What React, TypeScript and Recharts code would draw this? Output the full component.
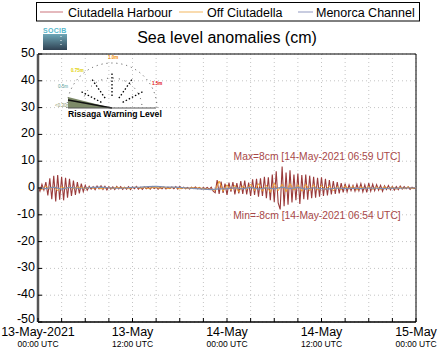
import React from 'react';
import { LineChart, Line, XAxis, YAxis, CartesianGrid, ReferenceArea } from 'recharts';

// Sea level anomalies (cm), 13-May-2021 00:00 UTC -> 15-May-2021 00:00 UTC

// Ciutadella Harbour, one value every 15 min
const harbour = [
  0.5, -1.2, 1.4, -0.8,
  2.2, -2.8, 3.6, -4.2, 4.6, -5.0, 4.8, -4.4, 4.2, -4.6, 3.8, -3.6, 3.4, -3.0, 2.8, -2.6, 2.2, -2.0, 1.6, -1.4, 1.0, -0.8,
  0.6, -0.4, 0.5, -0.6, 0.7, -0.3, 0.8, -0.5, 0.6, -0.7,
  0.5, -0.4, 0.4, -0.6, 0.6, -0.3, 0.5, -0.5, 0.3, -0.4,
  0.5, -0.6, 0.4, -0.3, 0.6, -0.4, 0.3, -0.5, 0.4, -0.3,
  0.3, -0.4, 0.5, -0.2, 0.3, -0.5, 0.2, -0.3, 0.4, -0.4,
  0.3, -0.2, 0.4, -0.3, 0.5, -0.4, 0.6, -0.2, 0.3, -0.3,
  0.2, -0.4, 0.3, -0.2, 0.4, -0.3, 0.2, -0.4, 0.1, -0.3,
  0.2, -0.5,
  0.3, -1.2, -1.8, 3.0, -2.2,
  2.4, -1.8, 1.6, -2.6, 2.0, -1.4, 2.2, -2.4, 1.8, -2.0, 2.6, -2.2, 2.8, -2.4, 2.0, -3.0, 3.2, -2.6, 3.4, -3.2,
  3.6, -3.0, 4.2, -3.8, 4.0, -4.6, 5.0, -5.2, 6.2, -5.6, -8.0, 8.0, -6.8, 5.8, -6.2, 6.6, -5.4, 5.0, -4.6, 5.4, -6.0, 4.8, -4.2,
  5.0, -4.4, 4.6, -3.8, 4.2, -3.6, 3.8, -3.2, 4.0, -3.0, 3.4, -2.8, 3.0, -2.4, 2.6, -2.2, 2.2, -2.0, 1.8, -1.6, 1.6, -1.4, 1.2, -1.0, 1.0,
  -1.2, 1.4, -1.0, 1.6, -1.4, 1.2, -1.6, 1.8, -1.2, 1.4, -1.0, 1.2, -0.8, 1.0, -1.2, 0.8,
  -0.6, 0.9, -0.7, 0.6, -0.8, 0.5, -0.6, 0.7, -0.4, 0.5, -0.3, 0.4, -0.5, 0.3, -0.2, 0.2,
];

// Off Ciutadella, one value every 30 min
const offCiutadella = [
  0.2, -0.6, 0.8, -0.4, 0.6, -1.0, 0.5, -0.3, 0.4, -0.2, 0.3,
  0.2, -0.2, 0.3, -0.1, 0.2, -0.3, 0.1, 0.2, -0.2, 0.3, -0.1, 0.2, -0.2, 0.1, 0.3, -0.1, 0.2,
  -0.2, 0.1, 0.2, -0.1, 0.3, -0.2, 0.1, 0.2, -0.3, 0.1, -0.2, 0.2, -0.1, 0.1, -0.3, -0.4,
  -0.5, -0.9, 2.6, -1.2,
  1.2, -0.8, 1.0, -1.4, 0.8, -0.6, 1.4, -1.0, 1.6, -1.2, 1.0, -1.6, 1.8, -1.0, 1.4, -1.4, 1.6, -0.8, 1.2, -1.2, 1.4, -1.0, 1.2,
  -0.8, 1.0, -0.6, 0.8, -1.0, 0.6, -0.6, 0.8, -0.4, 0.6, -0.8, 0.5, -0.4, 0.6, -0.5, 0.4,
  -0.6, 0.5, -0.3, 0.4, -0.4, 0.3, -0.3, 0.4, -0.2, 0.2,
];

// Menorca Channel, hourly
const menorcaChannel = [
  0.1, -0.2, 0.3, -0.4, 0.2, -0.1, 0.0, 0.2, 0.3, 0.1,
  -0.1, 0.0, 0.2, 0.3, 0.5, 0.6, 0.4, 0.3, 0.2, 0.0,
  -0.2, -0.4, -0.6, -0.3, -0.2, 0.1, -0.3, 0.2, -0.4, 0.1,
  -0.3, 0.3, -0.2, 0.2, -0.4, 0.1, -0.2, -0.3, 0.0, -0.2,
  -0.1, -0.2, 0.0, -0.1, -0.2, 0.0, -0.1, 0.0, 0.1,
];

const gridHours = [0, 3, 6, 9, 12, 15, 18, 21, 24, 27, 30, 33, 36, 39, 42, 45, 48];
const labelHours = [0, 12, 24, 36, 48];
const dateLabels = ['13-May-2021', '13-May', '14-May', '14-May', '15-May'];
const timeLabels = ['00:00 UTC', '12:00 UTC', '00:00 UTC', '12:00 UTC', '00:00 UTC'];
const yTicks = [-50, -40, -30, -20, -10, 0, 10, 20, 30, 40, 50];

const harbourData = harbour.map((v, i) => ({ t: i / 4, v }));
const offData = offCiutadella.map((v, i) => ({ t: i / 2, v }));
const channelData = menorcaChannel.map((v, i) => ({ t: i, v }));

const FONT = '"Liberation Sans", Arial, Helvetica, sans-serif';

function BottomTick({ x, y, payload }: any) {
  const idx = labelHours.indexOf(payload.value);
  return (
    <g>
      <line x1={x} x2={x} y1={y} y2={y - 4} stroke="#000" />
      {idx >= 0 && (
        <text x={x} y={y + 14} textAnchor="middle" fontSize={12.5} fill="#000" fontFamily={FONT}>
          {dateLabels[idx]}
        </text>
      )}
      {idx >= 0 && (
        <text x={x} y={y + 25} textAnchor="middle" fontSize={8.5} fill="#000" fontFamily={FONT}>
          {timeLabels[idx]}
        </text>
      )}
    </g>
  );
}

function TopTick({ x, y }: any) {
  return <line x1={x} x2={x} y1={y} y2={y + 4} stroke="#000" />;
}

function LeftTick({ x, y, payload }: any) {
  // the lowest label sits a little higher so it clears the date below
  const dy = payload.value === -50 ? 1 : 3;
  return (
    <g>
      <line x1={x} x2={x + 4} y1={y} y2={y} stroke="#000" />
      <text x={x - 3} y={y + dy} textAnchor="end" fontSize={12.5} fill="#000" fontFamily={FONT}>
        {payload.value}
      </text>
    </g>
  );
}

function RightTick({ x, y }: any) {
  return <line x1={x} x2={x - 4} y1={y} y2={y} stroke="#000" />;
}

function Overlay() {
  const cx = 112;
  const cy = 108;
  const arc = (r: number) => `M ${cx - r} ${cy} A ${r} ${r} 0 0 1 ${cx + r} ${cy}`;
  return (
    <svg width={445} height={359} style={{ position: 'absolute', left: 0, top: 0, pointerEvents: 'none' }}>
      <defs>
        <linearGradient id="socib" x1="0" y1="0" x2="0" y2="1">
          <stop offset="0" stopColor="#6fa8b8" />
          <stop offset="1" stopColor="#2f4152" />
        </linearGradient>
      </defs>
      {/* legend */}
      <rect x={36.5} y={2.5} width={383} height={18.5} fill="#fff" stroke="#000" />
      <line x1={40} x2={63} y1={12} y2={12} stroke="#d48a92" strokeWidth={1.2} />
      <text x={68} y={16.5} fontSize={12.5} fontFamily={FONT} fill="#000">Ciutadella Harbour</text>
      <line x1={179} x2={203} y1={12} y2={12} stroke="#f6c47a" strokeWidth={1.2} />
      <text x={207} y={16.5} fontSize={12.5} fontFamily={FONT} fill="#000">Off Ciutadella</text>
      <line x1={298} x2={313} y1={12} y2={12} stroke="#a4aacb" strokeWidth={1.2} />
      <text x={316} y={16.5} fontSize={12.5} fontFamily={FONT} fill="#000">Menorca Channel</text>
      {/* title */}
      <text x={227} y={43} textAnchor="middle" fontSize={16} fontFamily={FONT} fill="#000">
        Sea level anomalies (cm)
      </text>
      {/* SOCIB logo */}
      <text x={43} y={33} fontSize={7} fontWeight="bold" fontFamily={FONT} fill="#58b8cc" letterSpacing={0.3}>
        SOCIB
      </text>
      <rect x={43} y={34} width={24} height={16} fill="url(#socib)" />
      <line x1={61} x2={61} y1={36} y2={48} stroke="#fff" strokeDasharray="1 3" />
      {/* rissaga gauge */}
      <path d={arc(45)} fill="none" stroke="#444" strokeDasharray="1 4" />
      <path d={arc(30)} fill="none" stroke="#444" strokeDasharray="1 5" />
      {[28, 55, 90, 125, 152].map((a) => {
        const rad = (a * Math.PI) / 180;
        return (
          <line
            key={a}
            x1={cx - Math.cos(rad) * 12}
            y1={cy - Math.sin(rad) * 12}
            x2={cx - Math.cos(rad) * 36}
            y2={cy - Math.sin(rad) * 36}
            stroke="#000"
            strokeWidth={1.3}
            strokeDasharray="1.5 2"
          />
        );
      })}
      <polygon points="68,97 68,108 112,108" fill="#7d8a68" />
      <line x1={68} x2={112} y1={100} y2={108} stroke="#111" strokeWidth={1.3} />
      <line x1={68} x2={156} y1={108} y2={108} stroke="#555" strokeWidth={1} />
      <text x={55} y={107} fontSize={4.5} fontFamily={FONT} fill="#8a9468">&lt;0.30m</text>
      <text x={58} y={88} fontSize={4.5} fontFamily={FONT} fill="#4f9a96">0.5m</text>
      <text x={71} y={72} fontSize={4.5} fontWeight="bold" fontFamily={FONT} fill="#e0d000">0.75m</text>
      <text x={108} y={59} fontSize={4.5} fontWeight="bold" fontFamily={FONT} fill="#f08a00">1.0m</text>
      <text x={152} y={85} fontSize={4.5} fontWeight="bold" fontFamily={FONT} fill="#e01010">1.5m</text>
      <text x={68} y={117} fontSize={8.6} fontWeight="bold" fontFamily={FONT} fill="#000">
        Rissaga Warning Level
      </text>
      {/* extremes */}
      <text x={317} y={160} textAnchor="middle" fontSize={10.3} fontFamily={FONT} fill="#a84848">
        Max=8cm [14-May-2021 06:59 UTC]
      </text>
      <text x={317} y={219} textAnchor="middle" fontSize={10.3} fontFamily={FONT} fill="#a84848">
        Min=-8cm [14-May-2021 06:54 UTC]
      </text>
    </svg>
  );
}

export default function App() {
  return (
    <div style={{ position: 'absolute', left: 0, top: 0, width: 445, height: 359, background: '#fff', fontFamily: FONT }}>
      <LineChart width={445} height={359} margin={{ top: 54, right: 29, bottom: 0, left: 0 }}>
        <CartesianGrid stroke="#c4c4c4" strokeDasharray="1 3" />
        <XAxis
          type="number"
          dataKey="t"
          domain={[0, 48]}
          ticks={gridHours}
          interval={0}
          height={37}
          tickSize={0}
          tickMargin={0}
          tick={<BottomTick />}
          axisLine={{ stroke: '#000' }}
        />
        <XAxis
          xAxisId="top"
          orientation="top"
          type="number"
          dataKey="t"
          domain={[0, 48]}
          ticks={gridHours}
          interval={0}
          height={0}
          tickSize={0}
          tickMargin={0}
          tick={<TopTick />}
          axisLine={false}
        />
        <YAxis
          type="number"
          domain={[-50, 50]}
          ticks={yTicks}
          interval={0}
          width={38}
          tickSize={0}
          tickMargin={0}
          tick={<LeftTick />}
          axisLine={{ stroke: '#555', strokeWidth: 2.5 }}
        />
        <YAxis
          yAxisId="right"
          orientation="right"
          type="number"
          domain={[-50, 50]}
          ticks={yTicks}
          interval={0}
          width={0}
          tickSize={0}
          tickMargin={0}
          tick={<RightTick />}
          axisLine={false}
        />
        <ReferenceArea x1={0} x2={48} y1={-50} y2={50} fill="none" stroke="#000" strokeWidth={1} />
        <Line data={harbourData} dataKey="v" stroke="#9a3a3a" strokeWidth={1.1} dot={false} isAnimationActive={false} />
        <Line data={offData} dataKey="v" stroke="#f0a030" strokeWidth={1} dot={false} isAnimationActive={false} />
        <Line data={channelData} dataKey="v" stroke="#7f8fb0" strokeWidth={1.2} dot={false} isAnimationActive={false} />
      </LineChart>
      <Overlay />
    </div>
  );
}
